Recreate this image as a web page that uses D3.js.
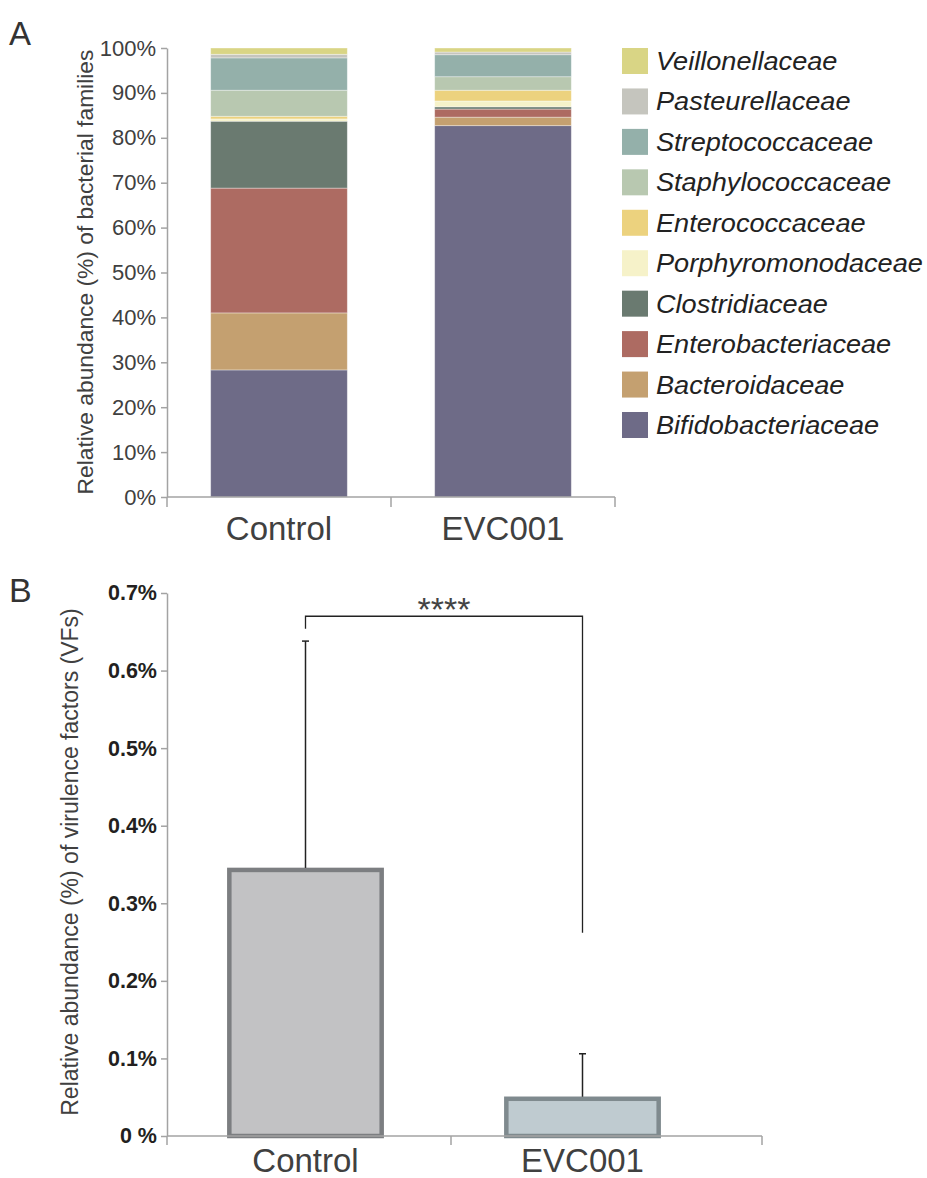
<!DOCTYPE html>
<html><head><meta charset="utf-8">
<script src="https://cdn.jsdelivr.net/npm/d3@7"></script>
<style>
body{margin:0;background:#fff}
svg{display:block}
text{font-family:Arial,"Liberation Sans",Helvetica,sans-serif}
</style>
</head><body>
<svg id="c" width="927" height="1178"></svg>
<script>
// ---------- Data ----------
const groups = ["Control", "EVC001"];
const families = ["Bifidobacteriaceae","Bacteroidaceae","Enterobacteriaceae","Clostridiaceae","Porphyromonodaceae","Enterococcaceae","Staphylococcaceae","Streptococcaceae","Pasteurellaceae","Veillonellaceae"];
const controlPct = [28.3, 12.7, 27.8, 14.9, 0.5, 0.6, 5.8, 7.2, 0.8, 1.4];
const evcPct     = [82.7, 1.9, 1.8, 0.5, 1.3, 2.4, 3.0, 4.9, 0.6, 0.9];
const familyColors = ["#6e6b87","#c4a070","#ad6b62","#6a7a70","#f6f2c9","#ecd27e","#b8c8b0","#94b0aa","#c5c5be","#d9d585"];
const yTicksA = [0,10,20,30,40,50,60,70,80,90,100];

const vfGroups = ["Control", "EVC001"];
const vfMean = [0.343, 0.048];
const vfErrTop = [0.638, 0.106];
const vfFill = ["#c2c2c4", "#bfcbd0"];
const vfStroke = ["#7c7e81", "#7f8a8e"];
const yTicksB = [0,0.1,0.2,0.3,0.4,0.5,0.6,0.7];
const sigLabel = "****";
const bracketTop = 0.670;
const bracketEnds = [0.654, 0.262];

// ---------- Setup ----------
const svg = d3.select("#c");
const axisColor = "#a3a3a3";
const textColor = "#404040";

// ================= Panel A =================
const yA = d3.scaleLinear().domain([0,100]).range([497,48]);
const xA = d3.scaleBand().domain(groups).range([167,615]).paddingInner(0.39).paddingOuter(0.195);

const rows = groups.map((g,gi) => {
  const o = {group:g};
  families.forEach((f,fi) => o[f] = (gi===0 ? controlPct : evcPct)[fi]);
  return o;
});
const stacked = d3.stack().keys(families)(rows);

const gA = svg.append("g");
gA.selectAll("g.layer").data(stacked).join("g")
  .attr("fill", (d,i) => familyColors[i])
  .selectAll("rect").data(d => d).join("rect")
  .attr("x", d => xA(d.data.group))
  .attr("width", xA.bandwidth())
  .attr("y", d => yA(d[1]))
  .attr("height", d => yA(d[0]) - yA(d[1]))
  .attr("stroke", "rgba(255,255,255,0.45)")
  .attr("stroke-width", 0.8);

// y axis
const axA = gA.append("g").attr("transform","translate(167,0)")
  .call(d3.axisLeft(yA).tickValues(yTicksA).tickFormat(d => d + "%").tickSize(6).tickSizeOuter(0).tickPadding(5));
axA.select(".domain").attr("stroke", axisColor).attr("stroke-width",1.5);
axA.selectAll(".tick line").attr("stroke", axisColor).attr("stroke-width",1.5);
axA.selectAll(".tick text").attr("font-size",22).attr("fill",textColor);

// x axis
const axAx = gA.append("g").attr("transform","translate(0,497)")
  .call(d3.axisBottom(xA).tickSize(0).tickPadding(20));
axAx.select(".domain").remove();
axAx.selectAll(".tick text").attr("font-size",33).attr("fill",textColor);
gA.append("line").attr("x1",167).attr("x2",615).attr("y1",497).attr("y2",497)
  .attr("stroke",axisColor).attr("stroke-width",1.5);
[167, 391, 615].forEach(x => gA.append("line").attr("x1",x).attr("x2",x).attr("y1",497).attr("y2",507)
  .attr("stroke",axisColor).attr("stroke-width",1.5));

// y title
gA.append("text").attr("transform","translate(93,272) rotate(-90)")
  .attr("text-anchor","middle").attr("font-size",22.8).attr("fill",textColor)
  .text("Relative abundance (%) of bacterial families");

// panel label
svg.append("text").attr("x",9).attr("y",45).attr("font-size",33).attr("fill","#333").text("A");

// legend
const legend = svg.append("g");
const legendOrder = families.map((f,i)=>({f, c: familyColors[i]})).reverse();
const legendY = d3.scalePoint().domain(legendOrder.map(d=>d.f)).range([61, 425]);
legendOrder.forEach(d => {
  const cy = legendY(d.f);
  legend.append("rect").attr("x",622).attr("y",cy-13).attr("width",26).attr("height",26).attr("fill",d.c);
  legend.append("text").attr("transform",`translate(656,${cy+9}) scale(1.085,1)`)
    .attr("font-size",25).attr("font-style","italic").attr("fill","#222").text(d.f);
});

// ================= Panel B =================
const yB = d3.scaleLinear().domain([0,0.7]).range([1136,593]);
const xB = d3.scaleBand().domain(vfGroups).range([167,721]).paddingInner(0.45).paddingOuter(0.225);
const gB = svg.append("g");

// y axis
const axB = gB.append("g").attr("transform","translate(167,0)")
  .call(d3.axisLeft(yB).tickValues(yTicksB).tickFormat(d => d===0 ? "0 %" : d.toFixed(1) + "%").tickSize(6).tickSizeOuter(0).tickPadding(4));
axB.select(".domain").attr("stroke", axisColor).attr("stroke-width",1.5);
axB.selectAll(".tick line").attr("stroke", axisColor).attr("stroke-width",1.5);
axB.selectAll(".tick text").attr("font-size",21.5).attr("font-weight","bold").attr("fill","#231f20");

// bars
gB.selectAll("rect.vf").data(vfGroups).join("rect")
  .attr("x", d => xB(d)).attr("width", xB.bandwidth())
  .attr("y", (d,i) => yB(vfMean[i])).attr("height", (d,i) => yB(0) - yB(vfMean[i]))
  .attr("fill", (d,i) => vfFill[i]).attr("stroke", (d,i) => vfStroke[i]).attr("stroke-width",4.5);

// x axis
const axBx = gB.append("g").attr("transform","translate(0,1136)")
  .call(d3.axisBottom(xB).tickSize(0).tickPadding(13));
axBx.select(".domain").remove();
axBx.selectAll(".tick text").attr("font-size",33).attr("fill",textColor);
gB.append("line").attr("x1",167).attr("x2",762).attr("y1",1136).attr("y2",1136)
  .attr("stroke",axisColor).attr("stroke-width",1.5);
[167, 451, 762].forEach(x => gB.append("line").attr("x1",x).attr("x2",x).attr("y1",1136).attr("y2",1145)
  .attr("stroke",axisColor).attr("stroke-width",1.5));

// error bars
vfGroups.forEach((g,i) => {
  const cx = xB(g) + xB.bandwidth()/2;
  gB.append("line").attr("x1",cx).attr("x2",cx).attr("y1",yB(vfMean[i])-2).attr("y2",yB(vfErrTop[i]))
    .attr("stroke","#222").attr("stroke-width",1.5);
  gB.append("line").attr("x1",cx-3.5).attr("x2",cx+3.5).attr("y1",yB(vfErrTop[i])).attr("y2",yB(vfErrTop[i]))
    .attr("stroke","#222").attr("stroke-width",1.5);
});

// significance bracket
const bx0 = xB(vfGroups[0]) + xB.bandwidth()/2, bx1 = xB(vfGroups[1]) + xB.bandwidth()/2;
gB.append("path")
  .attr("d", d3.line()([[bx0, yB(bracketEnds[0])],[bx0, yB(bracketTop)],[bx1, yB(bracketTop)],[bx1, yB(bracketEnds[1])]]))
  .attr("fill","none").attr("stroke","#222").attr("stroke-width",1.3);
gB.append("text").attr("x",(bx0+bx1)/2).attr("y",yB(bracketTop)+5).attr("text-anchor","middle")
  .attr("font-size",34).attr("fill","#444").text(sigLabel);

// y title
gB.append("text").attr("transform","translate(78,862) rotate(-90)")
  .attr("text-anchor","middle").attr("font-size",23).attr("fill",textColor)
  .text("Relative abundance (%) of virulence factors (VFs)");

svg.append("text").attr("x",9).attr("y",602).attr("font-size",34).attr("fill","#333").text("B");
</script>
</body></html>
